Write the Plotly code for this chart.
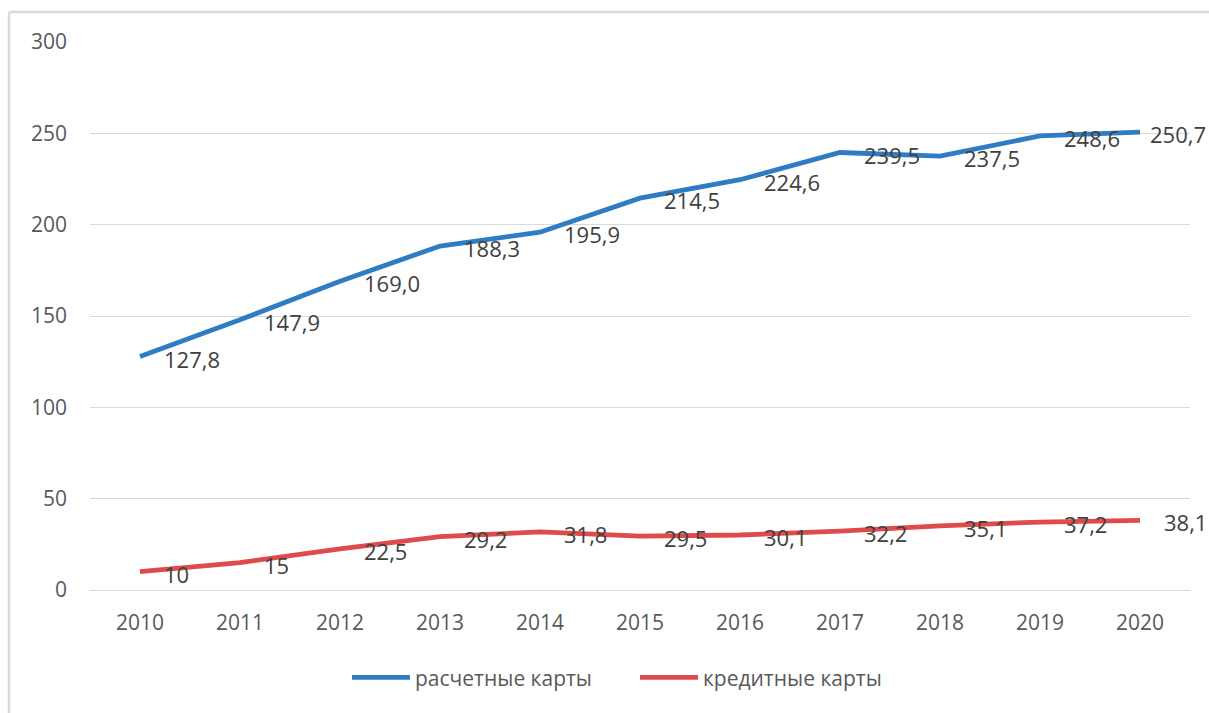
import plotly.graph_objects as go

years = [2010, 2011, 2012, 2013, 2014, 2015, 2016, 2017, 2018, 2019, 2020]
debit_cards = [127.8, 147.9, 169.0, 188.3, 195.9, 214.5, 224.6, 239.5, 237.5, 248.6, 250.7]
debit_labels = ["127,8", "147,9", "169,0", "188,3", "195,9", "214,5", "224,6", "239,5", "237,5", "248,6", "250,7"]
credit_cards = [10, 15, 22.5, 29.2, 31.8, 29.5, 30.1, 32.2, 35.1, 37.2, 38.1]
credit_labels = ["10", "15", "22,5", "29,2", "31,8", "29,5", "30,1", "32,2", "35,1", "37,2", "38,1"]
y_ticks = [0, 50, 100, 150, 200, 250, 300]

BLUE = "#2E7CC3"
RED = "#DF4A4A"
FONT = "Open Sans, Arial, sans-serif"
TEXT = "#404040"
GRID = "#D9D9D9"

fig = go.Figure()
fig.add_trace(go.Scatter(x=years, y=debit_cards, mode="lines", name="расчетные карты",
                         line=dict(color=BLUE, width=4.8)))
fig.add_trace(go.Scatter(x=years, y=credit_cards, mode="lines", name="кредитные карты",
                         line=dict(color=RED, width=4.8)))

# value labels to the right of each point; the last blue one is pulled in to fit
annotations = []
for series, labels in ((debit_cards, debit_labels), (credit_cards, credit_labels)):
    for i, (x, y, t) in enumerate(zip(years, series, labels)):
        shift = 22
        if series is debit_cards and i == len(years) - 1:
            shift = 8
        annotations.append(dict(x=x, y=y, text=t, xref="x", yref="y", showarrow=False,
                                xanchor="left", yanchor="middle", xshift=shift, yshift=-2,
                                font=dict(family=FONT, size=22, color=TEXT)))

# thin frame on the left and top edges
shapes = [
    dict(type="line", xref="paper", yref="paper", x0=-0.0736, x1=-0.0736, y0=-0.23, y1=1.0547,
         line=dict(color=GRID, width=2.5)),
    dict(type="line", xref="paper", yref="paper", x0=-0.0736, x1=1.02, y0=1.0547, y1=1.0547,
         line=dict(color=GRID, width=2.5)),
]

fig.update_layout(
    width=1209, height=713,
    margin=dict(l=90, r=19, t=42, b=123),
    paper_bgcolor="white", plot_bgcolor="white",
    font=dict(family=FONT, color="#595959"),
    showlegend=True,
    legend=dict(orientation="h", x=0.2336, xanchor="left", y=-0.16, yanchor="middle",
                font=dict(family=FONT, size=21, color="#595959"), itemwidth=58,
                entrywidthmode="pixels", entrywidth=215),
    annotations=annotations,
    shapes=shapes,
)
fig.update_xaxes(range=[2009.5, 2020.5], tickmode="array", tickvals=years,
                 ticktext=[str(y) for y in years], showgrid=False, zeroline=False,
                 showline=False, tickfont=dict(size=21, color="#595959"),
                 ticklabelstandoff=18)
fig.update_yaxes(range=[0, 300], tickmode="array", tickvals=y_ticks,
                 ticktext=[str(v) for v in y_ticks], showgrid=True, gridcolor=GRID,
                 gridwidth=1, zeroline=True, zerolinecolor=GRID, zerolinewidth=1,
                 showline=False, tickfont=dict(size=21, color="#595959"),
                 ticklabelstandoff=22)

fig.write_html("out.html")
